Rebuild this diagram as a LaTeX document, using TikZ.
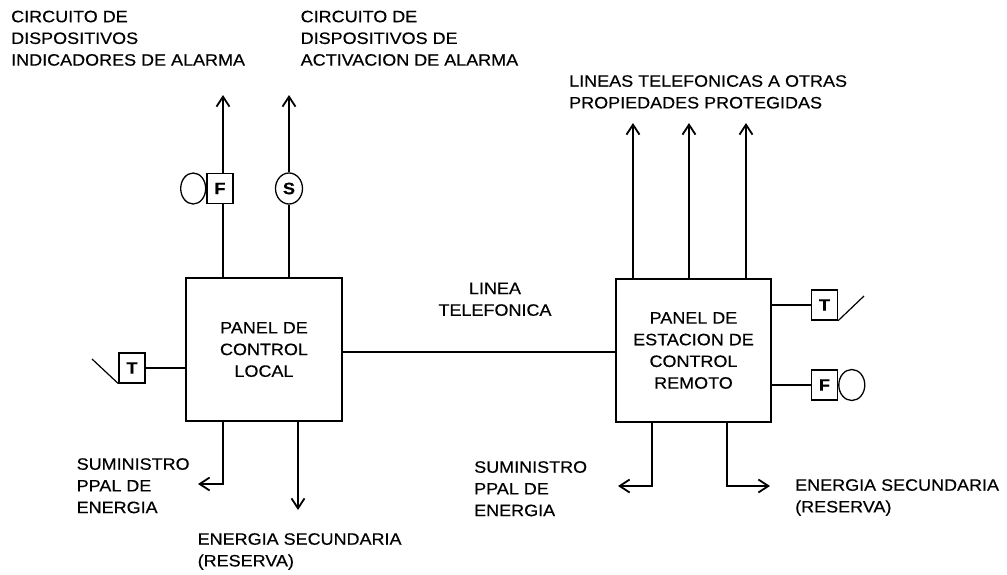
\documentclass[tikz,border=0pt]{standalone}
\usepackage{fontspec}
\setmainfont[FakeStretch=1.09,FakeBold=0.4]{Liberation Sans}
\usetikzlibrary{arrows.meta,shapes.geometric}
\begin{document}
\begin{tikzpicture}[x=1pt,y=-1pt,
  txt/.style={font=\fontsize{16.5}{21.7}\selectfont},
  lbl/.style={txt, inner sep=0pt, align=left, anchor=north west},
  panel/.style={txt, draw, line width=1.3pt, inner sep=0pt, align=center},
  dev/.style={draw, line width=1.3pt, inner sep=0pt, minimum width=26pt, minimum height=30pt, font=\fontsize{16.5}{21.7}\selectfont\bfseries},
  bell/.style={draw, ellipse, line width=1.3pt, inner sep=0pt, minimum width=26pt, minimum height=31pt, font=\fontsize{16.5}{21.7}\selectfont\bfseries},
  wire/.style={line width=1.2pt},
  arr/.style={line width=1.8pt, -{Straight Barb[length=10pt,width=13pt,line width=1.8pt]}},
  arrthin/.style={line width=1.2pt, -{Straight Barb[length=10pt,width=13pt,line width=1.8pt]}}
]
\useasboundingbox (0,0) rectangle (1007,574);

% panels
\node[panel, minimum width=156pt, minimum height=143pt] (lp) at (264,349.5) {PANEL DE\\CONTROL\\LOCAL};
\node[panel, minimum width=155pt, minimum height=143pt] (rp) at (693.5,350.5) {PANEL DE\\ESTACION DE\\CONTROL\\REMOTO};

% devices
\node[dev] (fL) at (220,188.5) {F};
\node[bell, minimum width=25pt, anchor=east] (cL) at (fL.west) {};
\node[bell, minimum width=27pt] (sL) at (289,188.5) {S};
\node[dev] (tL) at (132,368) {T};
\node[dev] (tR) at (824.5,305) {T};
\node[dev] (fR) at (824.5,385) {F};
\node[bell, anchor=west] (cR) at (fR.east) {};

% coordinates
\coordinate (xF) at (223,0);
\coordinate (aF) at (223,95);
\coordinate (aS) at (289,95);
\coordinate (tLend) at (92,359);
\coordinate (tRend) at (864,296);
\coordinate (sup1) at (198,484);
\coordinate (sec1) at (298,510);
\coordinate (tel) at (0,352);
\coordinate (a1) at (633,123);
\coordinate (a2) at (689,123);
\coordinate (a3) at (746,123);
\coordinate (d1) at (652,0);
\coordinate (d2) at (727,0);
\coordinate (sup2) at (618,486);
\coordinate (sec2) at (770,486);

% left panel connectors
\draw[wire] (lp.north -| xF) -- (fL.south -| xF);
\draw[arr] (fL.north -| xF) -- (aF);
\draw[wire] (lp.north -| sL) -- (sL.south);
\draw[arr] (sL.north) -- (aS);
\draw[wire] (tL.east) -- (tL.east -| lp.west);
\draw[wire] (tL.south west) -- (tLend);
\draw[arrthin] (lp.south -| xF) |- (sup1);
\draw[arr] (lp.south -| sec1) -- (sec1);

% telephone line
\draw[wire] (lp.east |- tel) -- (rp.west |- tel);

% right panel connectors
\draw[arr] (rp.north -| a1) -- (a1);
\draw[arr] (rp.north -| a2) -- (a2);
\draw[arr] (rp.north -| a3) -- (a3);
\draw[wire] (rp.east |- tR) -- (tR.west);
\draw[wire] (tR.south east) -- (tRend);
\draw[wire] (rp.east |- fR) -- (fR.west);
\draw[arrthin] (rp.south -| d1) |- (sup2);
\draw[arrthin] (rp.south -| d2) |- (sec2);

% labels
\node[lbl] (t1) at (11,10.5) {CIRCUITO DE\\DISPOSITIVOS\\INDICADORES DE ALARMA};
\node[lbl] (t2) at (300.5,10.5) {CIRCUITO DE\\DISPOSITIVOS DE\\ACTIVACION DE ALARMA};
\node[lbl] (t3) at (569,75) {LINEAS TELEFONICAS A OTRAS\\PROPIEDADES PROTEGIDAS};
\node[lbl, align=center, anchor=north] (t4) at (495,282.5) {LINEA\\TELEFONICA};
\node[lbl] (t5) at (76.5,458) {SUMINISTRO\\PPAL DE\\ENERGIA};
\node[lbl] (t6) at (197.5,533) {ENERGIA SECUNDARIA\\(RESERVA)};
\node[lbl] (t7) at (474,461) {SUMINISTRO\\PPAL DE\\ENERGIA};
\node[lbl] (t8) at (795,479) {ENERGIA SECUNDARIA\\(RESERVA)};
\end{tikzpicture}
\end{document}
